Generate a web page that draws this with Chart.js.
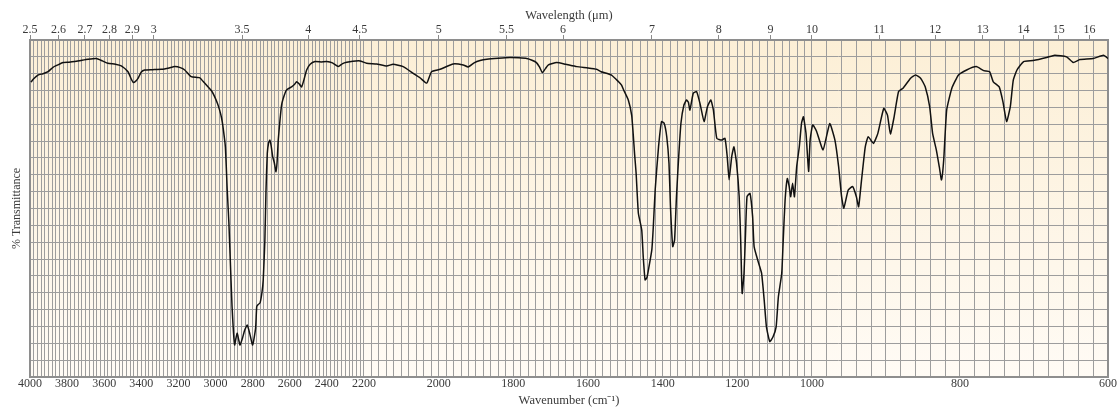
<!DOCTYPE html>
<html>
<head>
<meta charset="utf-8">
<script src="https://cdn.jsdelivr.net/npm/chart.js@4.4.1/dist/chart.umd.min.js"></script>
<style>
  html, body { margin: 0; padding: 0; background: #fff; }
  #wrap { width: 1120px; height: 412px; }
</style>
</head>
<body>
<div id="wrap"><canvas id="irChart" width="1120" height="412"></canvas></div>
<script>
// spectrum: wavenumber (cm-1) -> % transmittance
const wavenumbers = [
  3995, 3980, 3957, 3930, 3903, 3876, 3850, 3822, 3790, 3759, 3720, 3687, 3643, 3610, 3580, 3540,
  3508, 3472, 3455, 3443, 3430, 3418, 3400, 3382, 3340, 3292, 3250, 3220, 3190, 3166, 3131, 3100,
  3085, 3060, 3041, 3020, 3005, 2990, 2978, 2968, 2960, 2947, 2937, 2928, 2918, 2911, 2903, 2897,
  2890, 2883, 2875, 2868, 2855, 2843, 2829, 2816, 2800, 2784, 2778, 2770, 2760, 2750, 2743, 2734,
  2728, 2721, 2714, 2707, 2700, 2692, 2683, 2674, 2668, 2662, 2653, 2644, 2630, 2617, 2590, 2575,
  2563, 2550, 2536, 2522, 2509, 2490, 2464, 2430, 2401, 2370, 2338, 2315, 2293, 2260, 2221, 2193,
  2166, 2139, 2122, 2095, 2068, 2050, 2032, 2019, 1996, 1961, 1934, 1921, 1905, 1889, 1871, 1840,
  1809, 1785, 1764, 1750, 1738, 1730, 1722, 1714, 1706, 1684, 1660, 1630, 1600, 1577, 1565, 1537,
  1518, 1510, 1505, 1492, 1483, 1479, 1475, 1471, 1465, 1456, 1452, 1447, 1442, 1438, 1429, 1425,
  1420, 1411, 1403, 1396, 1389, 1383, 1379, 1373, 1368, 1363, 1357, 1351, 1343, 1336, 1331, 1327,
  1318, 1309, 1300, 1289, 1280, 1271, 1264, 1255, 1242, 1233, 1227, 1222, 1215, 1209, 1202, 1195,
  1191, 1187, 1182, 1178, 1174, 1166, 1159, 1155, 1144, 1135, 1128, 1122, 1113, 1104, 1096, 1090,
  1081, 1077, 1072, 1066, 1061, 1057, 1052, 1047, 1041, 1034, 1028, 1023, 1016, 1009, 1005, 999,
  994, 985, 976, 969, 964, 960, 957, 951, 945, 940, 937, 933, 928, 924, 917, 911,
  903, 898, 894, 889, 883, 877, 867, 860, 853, 847, 841, 837, 832, 828, 825, 822,
  818, 811, 802, 791, 778, 768, 760, 755, 747, 742, 737, 732, 728, 723, 714, 701,
  683, 672, 656, 647, 638, 620, 606, 600
];
const transmittance = [
  87.5, 88.5, 89.6, 90.0, 90.6, 91.9, 92.6, 93.3, 93.4, 93.6, 94.0, 94.3, 94.5, 93.8, 93.1, 92.8,
  92.3, 90.6, 88.5, 87.4, 87.8, 88.6, 90.5, 91.1, 91.2, 91.3, 91.7, 92.1, 91.8, 91.1, 89.1, 88.9,
  88.8, 87.3, 86.1, 84.8, 83.2, 81.2, 79.2, 77.0, 74.3, 68.3, 55.5, 45.7, 30.9, 20.9, 13.0, 9.5,
  11.5, 13.0, 11.0, 9.5, 11.5, 13.9, 15.4, 13.0, 9.5, 14.5, 20.9, 21.5, 22.0, 25.0, 28.8, 40.7,
  55.5, 66.4, 69.5, 70.3, 68.5, 65.4, 63.5, 60.9, 64.0, 70.3, 76.0, 80.7, 83.5, 85.2, 86.1, 86.8,
  87.6, 87.0, 86.1, 88.5, 91.1, 92.8, 93.6, 93.5, 93.6, 93.2, 92.1, 93.0, 93.4, 93.7, 93.8, 93.1,
  92.9, 92.3, 92.8, 92.1, 90.1, 88.8, 87.2, 90.6, 91.3, 92.9, 92.6, 92.0, 93.2, 93.9, 94.3, 94.6,
  94.8, 94.7, 94.5, 94.0, 93.3, 92.0, 90.3, 91.5, 92.6, 93.3, 92.8, 92.1, 91.7, 91.3, 90.6, 89.6,
  87.6, 86.6, 85.3, 82.2, 77.7, 72.3, 66.0, 60.4, 48.6, 43.6, 35.7, 28.8, 29.5, 31.8, 37.7, 44.6,
  55.5, 68.3, 75.8, 75.3, 71.3, 63.4, 50.5, 38.7, 40.7, 53.5, 65.4, 75.3, 80.7, 82.2, 81.5, 79.2,
  84.2, 84.7, 81.2, 75.8, 80.2, 82.2, 79.2, 70.8, 70.3, 70.8, 65.4, 58.5, 65.4, 68.3, 63.4, 53.5,
  40.7, 24.8, 30.8, 42.6, 53.5, 54.5, 47.6, 38.7, 34.2, 30.8, 22.8, 14.9, 10.5, 12.0, 14.9, 23.8,
  30.8, 40.7, 52.5, 58.9, 56.5, 53.5, 57.5, 53.5, 62.4, 68.3, 75.3, 77.2, 72.3, 61.0, 70.3, 74.8,
  73.0, 67.4, 75.2, 70.3, 62.4, 53.5, 50.1, 55.5, 56.5, 53.5, 50.5, 58.5, 68.3, 71.3, 69.3, 72.3,
  79.7, 77.7, 72.1, 77.2, 84.7, 85.7, 88.6, 89.6, 88.6, 86.1, 80.2, 72.3, 67.4, 62.4, 58.5, 64.4,
  79.2, 85.7, 89.6, 91.1, 92.1, 90.9, 90.6, 87.6, 86.1, 81.7, 75.8, 80.2, 88.1, 91.1, 93.6, 93.9,
  94.8, 95.5, 95.0, 93.3, 94.2, 94.5, 95.5, 94.5
];

const wavenumberLabels = [4000, 3800, 3600, 3400, 3200, 3000, 2800, 2600, 2400, 2200,
  2000, 1800, 1600, 1400, 1200, 1000, 800, 600];
const wavelengthLabels = [2.5, 2.6, 2.7, 2.8, 2.9, 3, 3.5, 4, 4.5, 5, 5.5, 6, 7, 8, 9, 10, 11, 12, 13, 14, 15, 16];
const gridStep = 20;

// chart paper uses three linear stretches: 4000-2200, 2200-1000, 1000-600
const AXIS_BREAKS = [4000, 2200, 1000, 600];
const AXIS_STOPS = [0, 0.3098, 0.7254, 1];

function wnToDecimal(v) {
  for (let i = 0; i < AXIS_BREAKS.length - 1; i++) {
    const a = AXIS_BREAKS[i], b = AXIS_BREAKS[i + 1];
    if (v <= a && v >= b || i === AXIS_BREAKS.length - 2) {
      return AXIS_STOPS[i] + (a - v) / (a - b) * (AXIS_STOPS[i + 1] - AXIS_STOPS[i]);
    }
  }
  return 0;
}
function decimalToWn(d) {
  for (let i = 0; i < AXIS_STOPS.length - 1; i++) {
    if (d <= AXIS_STOPS[i + 1] || i === AXIS_STOPS.length - 2) {
      const t = (d - AXIS_STOPS[i]) / (AXIS_STOPS[i + 1] - AXIS_STOPS[i]);
      return AXIS_BREAKS[i] - t * (AXIS_BREAKS[i] - AXIS_BREAKS[i + 1]);
    }
  }
  return AXIS_BREAKS[0];
}

class WavenumberScale extends Chart.LinearScale {
  getPixelForValue(value) {
    if (value === null || isNaN(value)) return NaN;
    return this.getPixelForDecimal(wnToDecimal(value));
  }
  getValueForPixel(pixel) {
    return decimalToWn(this.getDecimalForPixel(pixel));
  }
}
WavenumberScale.id = 'wavenumber';
WavenumberScale.defaults = Chart.LinearScale.defaults;
Chart.register(WavenumberScale);

const serif = 'Liberation Serif, Times New Roman, serif';
const textColor = '#3a3a3a';
const gridColor = '#9d9d9d';

const paperPlugin = {
  id: 'paper',
  beforeDraw(chart) {
    const { ctx, chartArea: a } = chart;
    const g = ctx.createLinearGradient(0, a.top, 0, a.bottom);
    g.addColorStop(0, '#fcefd6');
    g.addColorStop(1, '#fffbf5');
    ctx.save();
    ctx.fillStyle = g;
    ctx.fillRect(a.left, a.top, a.right - a.left, a.bottom - a.top);
    ctx.restore();
  },
  beforeDatasetsDraw(chart) {
    const { ctx, chartArea: a } = chart;
    ctx.save();
    ctx.strokeStyle = '#8e8e8e';
    ctx.lineWidth = 2;
    ctx.strokeRect(a.left, a.top, a.right - a.left, a.bottom - a.top);
    ctx.restore();
  }
};

const gridValues = [];
for (let v = 4000; v >= 600; v -= gridStep) gridValues.push(v);

new Chart(document.getElementById('irChart'), {
  type: 'line',
  data: {
    datasets: [{
      data: wavenumbers.map((w, i) => ({ x: w, y: transmittance[i] })),
      borderColor: '#111',
      borderWidth: 1.5,
      pointRadius: 0,
      tension: 0.15,
      fill: false
    }]
  },
  options: {
    responsive: false,
    animation: false,
    devicePixelRatio: 1,
    layout: { padding: { left: 0, right: 12, top: 0, bottom: 0 } },
    plugins: { legend: { display: false }, tooltip: { enabled: false } },
    scales: {
      x: {
        type: 'wavenumber',
        position: 'bottom',
        min: 600,
        max: 4000,
        afterBuildTicks: (s) => { s.ticks = gridValues.map(v => ({ value: v })); },
        afterFit: (s) => { s.height = 35; },
        border: { display: false },
        grid: { color: gridColor, lineWidth: 1, drawTicks: false },
        ticks: {
          autoSkip: false, maxRotation: 0, minRotation: 0, padding: 0,
          color: textColor, font: { family: serif, size: 12 },
          callback: (v) => wavenumberLabels.includes(v) ? String(v) : ''
        },
        title: {
          display: true, text: 'Wavenumber (cm⁻¹)', color: textColor,
          font: { family: serif, size: 12.5 }, padding: { top: 0, bottom: 4 }
        }
      },
      x2: {
        type: 'wavenumber',
        position: 'top',
        min: 600,
        max: 4000,
        afterBuildTicks: (s) => { s.ticks = wavelengthLabels.map(l => ({ value: 10000 / l })); },
        afterFit: (s) => { s.height = 40; },
        border: { display: false },
        grid: { drawOnChartArea: false, drawTicks: true, tickLength: 5, color: '#8a8a8a' },
        ticks: {
          autoSkip: false, maxRotation: 0, minRotation: 0, padding: -2,
          color: textColor, font: { family: serif, size: 12 },
          callback: (v, i) => String(wavelengthLabels[i])
        },
        title: {
          display: true, text: 'Wavelength (μm)', color: textColor,
          font: { family: serif, size: 12.5 }, padding: { top: 8, bottom: 0 }
        }
      },
      y: {
        min: 0,
        max: 100,
        afterFit: (s) => { s.width = 30; },
        border: { display: false },
        grid: { color: gridColor, lineWidth: 1, drawTicks: false },
        ticks: { stepSize: 5, display: false },
        title: {
          display: true, text: '% Transmittance', color: textColor,
          font: { family: serif, size: 12 }, padding: { top: 10, bottom: 0 }
        }
      }
    }
  },
  plugins: [paperPlugin]
});
</script>
</body>
</html>
